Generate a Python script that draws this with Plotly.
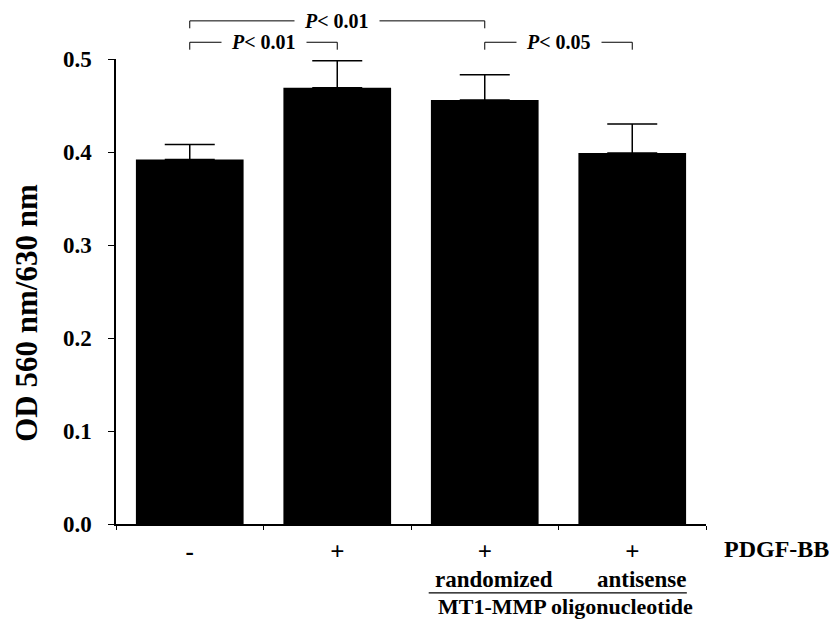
import plotly.graph_objects as go

# ---- data ----
categories = ["-", "+", "+", "+"]
od_values = [0.392, 0.469, 0.456, 0.399]
od_errors = [0.016, 0.029, 0.027, 0.031]
y_ticks = [0.0, 0.1, 0.2, 0.3, 0.4, 0.5]
oligo_labels = ["randomized", "antisense"]
oligo_positions = [2, 3]
# significance brackets: (left bar, right bar, level in data units, label)
brackets = [
    (0, 2, 0.541, "<i>P</i>&lt; 0.01"),
    (0, 1, 0.518, "<i>P</i>&lt; 0.01"),
    (2, 3, 0.518, "<i>P</i>&lt; 0.05"),
]

Y_MAX = 0.5
FONT = "Liberation Serif"
x_idx = list(range(len(categories)))

fig = go.Figure()
fig.add_trace(go.Bar(
    x=x_idx, y=od_values,
    width=0.73,
    marker=dict(color="black", line=dict(width=0)),
    error_y=dict(type="data", array=od_errors, arrayminus=[0] * len(od_errors),
                 symmetric=False, color="black", thickness=1.5, width=25),
    showlegend=False,
))

shapes = []
annotations = []
drop = 0.008
for a, b, lvl, txt in brackets:
    yp = lvl / Y_MAX
    yd = (lvl - drop) / Y_MAX
    shapes.append(dict(type="line", xref="x", yref="paper", x0=a, x1=b, y0=yp, y1=yp,
                       line=dict(color="black", width=1)))
    for xx in (a, b):
        shapes.append(dict(type="line", xref="x", yref="paper", x0=xx, x1=xx, y0=yp, y1=yd,
                           line=dict(color="black", width=1)))
    annotations.append(dict(x=(a + b) / 2, y=yp, xref="x", yref="paper",
                            text="&nbsp;&nbsp;<b>" + txt + "</b>&nbsp;&nbsp;", showarrow=False,
                            font=dict(family=FONT, size=20, color="black"),
                            bgcolor="white", borderpad=0, xanchor="center", yanchor="middle"))

# oligonucleotide labels
for lab, pos in zip(oligo_labels, oligo_positions):
    annotations.append(dict(x=pos + 0.06, y=-0.120, xref="x", yref="paper",
                            text="<b>" + lab + "</b>", showarrow=False,
                            font=dict(family=FONT, size=23, color="black"),
                            xanchor="center", yanchor="middle"))
shapes.append(dict(type="line", xref="x", yref="paper", x0=1.62, x1=3.37, y0=-0.148, y1=-0.148,
                   line=dict(color="black", width=1.2)))
annotations.append(dict(x=2.55, y=-0.178, xref="x", yref="paper",
                        text="<b>MT1-MMP oligonucleotide</b>", showarrow=False,
                        font=dict(family=FONT, size=22, color="black"),
                        xanchor="center", yanchor="middle"))
annotations.append(dict(x=1.119, y=-0.054, xref="paper", yref="paper",
                        text="<b>PDGF-BB</b>", showarrow=False,
                        font=dict(family=FONT, size=24, color="black"),
                        xanchor="center", yanchor="middle"))
annotations.append(dict(x=-0.152, y=0.455, xref="paper", yref="paper",
                        text="<b>OD 560 nm/630 nm</b>", showarrow=False, textangle=-90,
                        font=dict(family=FONT, size=31, color="black"),
                        xanchor="center", yanchor="middle"))

fig.update_layout(
    width=829, height=612,
    margin=dict(l=108, r=131, t=51, b=96),
    paper_bgcolor="white", plot_bgcolor="white",
    shapes=shapes, annotations=annotations,
    xaxis=dict(range=[-0.5, 3.5], tickmode="array", tickvals=x_idx,
               ticktext=["<b>" + c + "</b>" for c in categories],
               ticks="", showgrid=False, zeroline=False,
               showline=True, linecolor="black", linewidth=1.5,
               tickfont=dict(family=FONT, size=25, color="black"),
               ticklabelstandoff=4,
               minor=dict(tickmode="linear", tick0=-0.5, dtick=1, ticks="outside",
                          ticklen=4, tickwidth=1.2, tickcolor="black", showgrid=False)),
    yaxis=dict(range=[0, Y_MAX], tickmode="array", tickvals=y_ticks,
               ticktext=["<b>%.1f</b>" % v for v in y_ticks],
               ticks="outside", ticklen=6, tickwidth=1.2, tickcolor="black",
               showgrid=False, zeroline=False,
               showline=True, linecolor="black", linewidth=1.5,
               tickfont=dict(family=FONT, size=23, color="black"),
               ticklabelstandoff=12),
)

fig.write_html("out.html")
